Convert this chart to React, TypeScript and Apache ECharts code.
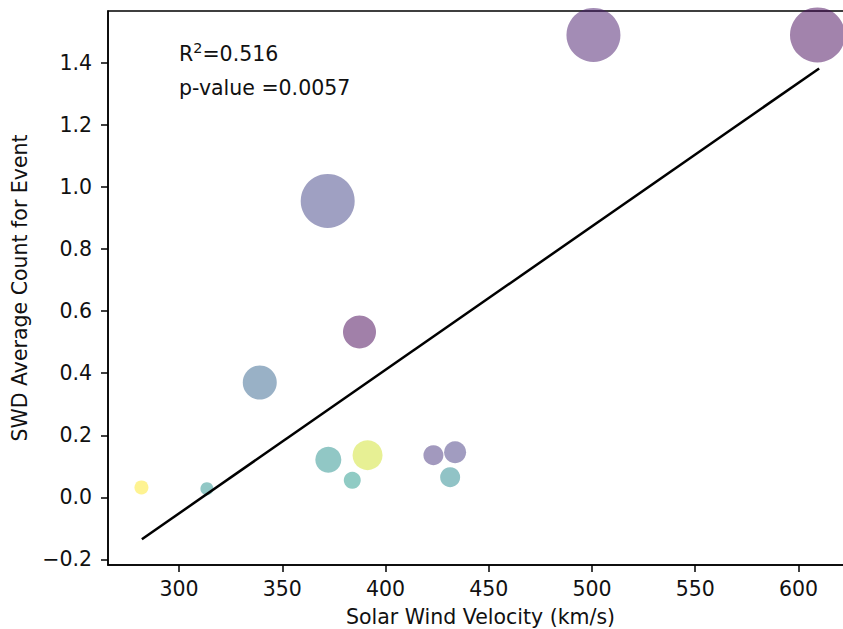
import React, { useEffect, useRef } from 'react';
import * as echarts from 'echarts';

// Solar wind velocity (km/s)
const velocities = [281.8, 313.5, 339.1, 387.4, 372.3, 391.3, 383.9, 423.2, 433.7, 431.3, 372.0, 500.7, 609.2];
// SWD average count for event
const swdCounts = [0.032, 0.028, 0.370, 0.533, 0.121, 0.136, 0.055, 0.136, 0.145, 0.065, 0.955, 1.490, 1.490];
// bubble diameters
const bubbleSizes = [14, 13, 34, 33, 26, 30, 17, 20, 22, 20, 54, 54, 55];
// colour variable (0..1 on viridis)
const colorValues = [1.0, 0.5, 0.32, 0.0, 0.5, 0.93, 0.53, 0.15, 0.17, 0.47, 0.2, 0.07, 0.02];
// regression line end points
const fitX = [282, 610];
const fitY = [-0.135, 1.382];

const xTicks = [300, 350, 400, 450, 500, 550, 600];
const yTicks = [-0.2, 0, 0.2, 0.4, 0.6, 0.8, 1.0, 1.2, 1.4];

const rSquared = '0.516';
const pValue = '0.0057';
const annotX = 300;
const annotY = 1.3;

const viridis = ['#440154', '#482878', '#3e4989', '#31688e', '#26828e', '#1f9e89', '#35b779', '#6ece58', '#b5de2b', '#fde725'];

export default function App() {
  const ref = useRef<HTMLDivElement>(null);
  useEffect(() => {
    const chart = echarts.init(ref.current!, null, { renderer: 'svg' });
    const font = 'DejaVu Sans';
    const fs = 20.5;
    const scatterData = velocities.map((v, i) => [v, swdCounts[i], bubbleSizes[i], colorValues[i]]);
    chart.setOption({
      animation: false,
      backgroundColor: '#ffffff',
      textStyle: { fontFamily: font },
      grid: {
        left: 108,
        top: 11,
        width: 745,
        height: 554,
        outerBoundsMode: 'none',
        containLabel: false,
        show: true,
        borderColor: '#000',
        borderWidth: 1.5,
        backgroundColor: 'transparent',
      },
      visualMap: {
        show: false,
        type: 'continuous',
        seriesIndex: 0,
        dimension: 3,
        min: 0,
        max: 1,
        inRange: { color: viridis },
      },
      xAxis: {
        type: 'value',
        min: 265.6,
        max: 626.4,
        name: 'Solar Wind Velocity (km/s)',
        nameLocation: 'middle',
        nameGap: 41,
        nameTextStyle: { fontFamily: font, fontSize: fs, color: '#111' },
        splitLine: { show: false },
        axisLine: { show: true, onZero: false, lineStyle: { color: '#000', width: 1.5 } },
        axisTick: { show: true, length: 7, customValues: xTicks, lineStyle: { color: '#000', width: 1.5 } },
        axisLabel: { customValues: xTicks, margin: 13, fontFamily: font, fontSize: fs, color: '#111' },
      },
      yAxis: {
        type: 'value',
        min: -0.218,
        max: 1.567,
        name: 'SWD Average Count for Event',
        nameLocation: 'middle',
        nameGap: 78,
        nameTextStyle: { fontFamily: font, fontSize: fs, color: '#111' },
        splitLine: { show: false },
        axisLine: { show: true, onZero: false, lineStyle: { color: '#000', width: 1.5 } },
        axisTick: { show: true, length: 7, customValues: yTicks, lineStyle: { color: '#000', width: 1.5 } },
        axisLabel: {
          customValues: yTicks,
          margin: 16,
          fontFamily: font,
          fontSize: fs,
          color: '#111',
          formatter: (v: number) => (v < 0 ? '\u2212' + Math.abs(v).toFixed(1) : v.toFixed(1)),
        },
      },
      series: [
        {
          type: 'scatter',
          data: scatterData,
          symbolSize: (val: number[]) => val[2],
          itemStyle: { opacity: 0.5 },
          clip: true,
          z: 2,
        },
        {
          type: 'line',
          data: fitX.map((x, i) => [x, fitY[i]]),
          symbol: 'none',
          lineStyle: { color: '#000', width: 2.5 },
          itemStyle: { color: '#000' },
          z: 3,
        },
      ],
    });
    const p = chart.convertToPixel({ gridIndex: 0 }, [annotX, annotY]) as number[];
    chart.setOption({
      graphic: [
        {
          type: 'text',
          x: p[0],
          y: p[1] - 29,
          style: {
            text: '{r|R}{s|2}{r|=' + rSquared + '}',
            verticalAlign: 'bottom',
            rich: {
              r: { fontFamily: font, fontSize: fs, fill: '#111', lineHeight: 24, verticalAlign: 'bottom' },
              s: { fontFamily: font, fontSize: 14.4, fill: '#111', lineHeight: 24, verticalAlign: 'top' },
            },
          },
          z: 10,
        },
        {
          type: 'text',
          x: p[0],
          y: p[1] + 5,
          style: {
            text: 'p-value =' + pValue,
            fontFamily: font,
            fontSize: fs,
            fill: '#111',
            verticalAlign: 'bottom',
          },
          z: 10,
        },
      ],
    });
    return () => chart.dispose();
  }, []);
  return (
    <div
      ref={ref}
      style={{ position: 'fixed', left: 0, top: 0, width: 843, height: 629, background: '#fff' }}
    />
  );
}
